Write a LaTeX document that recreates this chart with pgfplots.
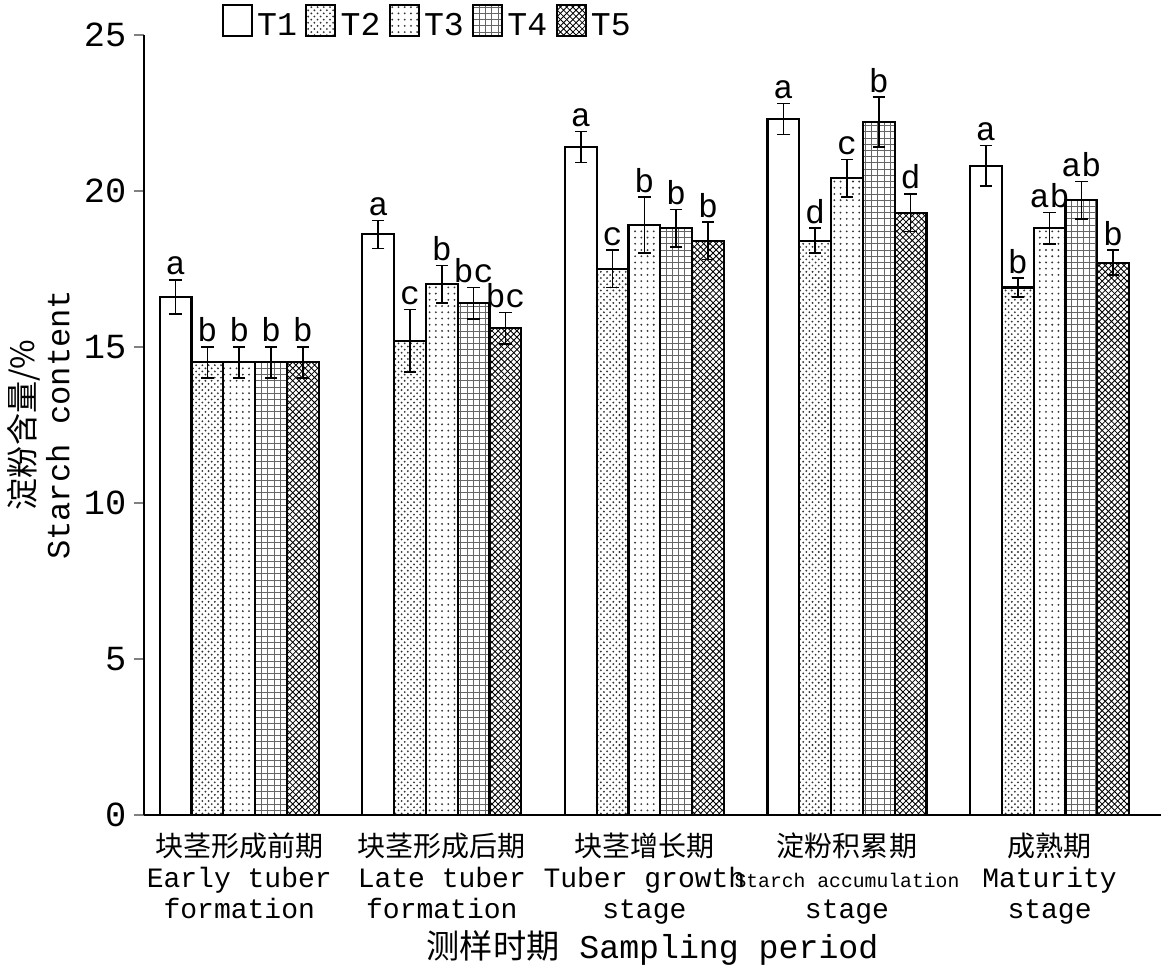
\documentclass[border=0pt]{standalone}
\usepackage{pgfplots}
\pgfplotsset{compat=1.18}
\usetikzlibrary{patterns}
\usepackage{fontspec}
\setmainfont{Liberation Mono}
\newfontfamily\cjk{Noto Sans CJK SC}
\begin{document}
\begin{tikzpicture}
\begin{axis}[
  scale only axis, width=490pt, height=376pt,
  axis lines=left, axis line style={-, line width=1pt},
  ymin=0, ymax=25, ytick={0,5,...,25},
  xmin=-0.47, xmax=4.55,
  xtick={0,1,2,3,4},
  xticklabels={{\cjk 块茎形成前期}\\Early tuber\\formation,
               {\cjk 块茎形成后期}\\Late tuber\\formation,
               {\cjk 块茎增长期}\\Tuber growth\\stage,
               {\cjk 淀粉积累期}\\{\fontsize{9.5}{11}\selectfont Starch accumulation}\\stage,
               {\cjk 成熟期}\\Maturity\\stage},
  xticklabel style={align=center, font=\fontsize{13.5}{15}\selectfont},
  yticklabel style={font=\fontsize{17}{17}\selectfont},
  /pgf/number format/assume math mode=true,
  tick style={line width=1pt}, major tick length=5pt,
  tick align=outside, xtick style={draw=none},
  ylabel={{\cjk 淀粉含量/\%}\\Starch content},
  ylabel style={align=center, font=\fontsize{15.5}{17}\selectfont},
  xlabel={{\cjk 测样时期} Sampling period},
  xlabel style={font=\fontsize{16}{17}\selectfont, yshift=4pt},
  ybar=0pt, bar width=0.157,
  legend columns=5,
  legend style={draw=none, at={(0.07,1.045)}, anchor=north west, font=\fontsize{16}{17}\selectfont,
    /tikz/every even column/.append style={column sep=2pt}},
  legend image code/.code={\draw[#1] (0pt,-5pt) rectangle (14pt,10pt);},
  error bars/y dir=both, error bars/y explicit,
  error bars/error bar style={line width=0.8pt},
  error bars/error mark options={rotate=90, mark size=3pt, line width=0.8pt},
  every axis plot/.append style={draw=black, line width=1pt},
]
\addplot[fill=white] coordinates {(0,16.6)+-(0,0.55) (1,18.6)+-(0,0.45) (2,21.4)+-(0,0.5) (3,22.3)+-(0,0.5) (4,20.8)+-(0,0.65)};
\addplot[pattern=crosshatch dots, pattern color=black!80] coordinates {(0,14.5)+-(0,0.5) (1,15.2)+-(0,1.0) (2,17.5)+-(0,0.6) (3,18.4)+-(0,0.4) (4,16.9)+-(0,0.3)};
\addplot[pattern=dots, pattern color=black!80] coordinates {(0,14.5)+-(0,0.5) (1,17.0)+-(0,0.6) (2,18.9)+-(0,0.9) (3,20.4)+-(0,0.6) (4,18.8)+-(0,0.5)};
\addplot[pattern=grid, pattern color=black!60] coordinates {(0,14.5)+-(0,0.5) (1,16.4)+-(0,0.5) (2,18.8)+-(0,0.6) (3,22.2)+-(0,0.8) (4,19.7)+-(0,0.6)};
\addplot[pattern=crosshatch, pattern color=black] coordinates {(0,14.5)+-(0,0.5) (1,15.6)+-(0,0.5) (2,18.4)+-(0,0.6) (3,19.3)+-(0,0.6) (4,17.7)+-(0,0.4)};
\legend{T1,T2,T3,T4,T5}
\tikzset{lab/.style={anchor=south, font=\fontsize{16}{17}\selectfont, inner sep=2pt}}
\node[lab] at (axis cs:-0.314,17.15) {a};
\node[lab] at (axis cs:-0.157,15.0) {b};
\node[lab] at (axis cs:0,15.0) {b};
\node[lab] at (axis cs:0.157,15.0) {b};
\node[lab] at (axis cs:0.314,15.0) {b};
\node[lab] at (axis cs:0.686,19.05) {a};
\node[lab] at (axis cs:0.843,16.2) {c};
\node[lab] at (axis cs:1,17.6) {b};
\node[lab] at (axis cs:1.157,16.9) {bc};
\node[lab] at (axis cs:1.314,16.1) {bc};
\node[lab] at (axis cs:1.686,21.9) {a};
\node[lab] at (axis cs:1.843,18.1) {c};
\node[lab] at (axis cs:2,19.8) {b};
\node[lab] at (axis cs:2.157,19.4) {b};
\node[lab] at (axis cs:2.314,19.0) {b};
\node[lab] at (axis cs:2.686,22.8) {a};
\node[lab] at (axis cs:2.843,18.8) {d};
\node[lab] at (axis cs:3,21.0) {c};
\node[lab] at (axis cs:3.157,23.0) {b};
\node[lab] at (axis cs:3.314,19.9) {d};
\node[lab] at (axis cs:3.686,21.45) {a};
\node[lab] at (axis cs:3.843,17.2) {b};
\node[lab] at (axis cs:4,19.3) {ab};
\node[lab] at (axis cs:4.157,20.3) {ab};
\node[lab] at (axis cs:4.314,18.1) {b};
\end{axis}
\end{tikzpicture}
\end{document}
